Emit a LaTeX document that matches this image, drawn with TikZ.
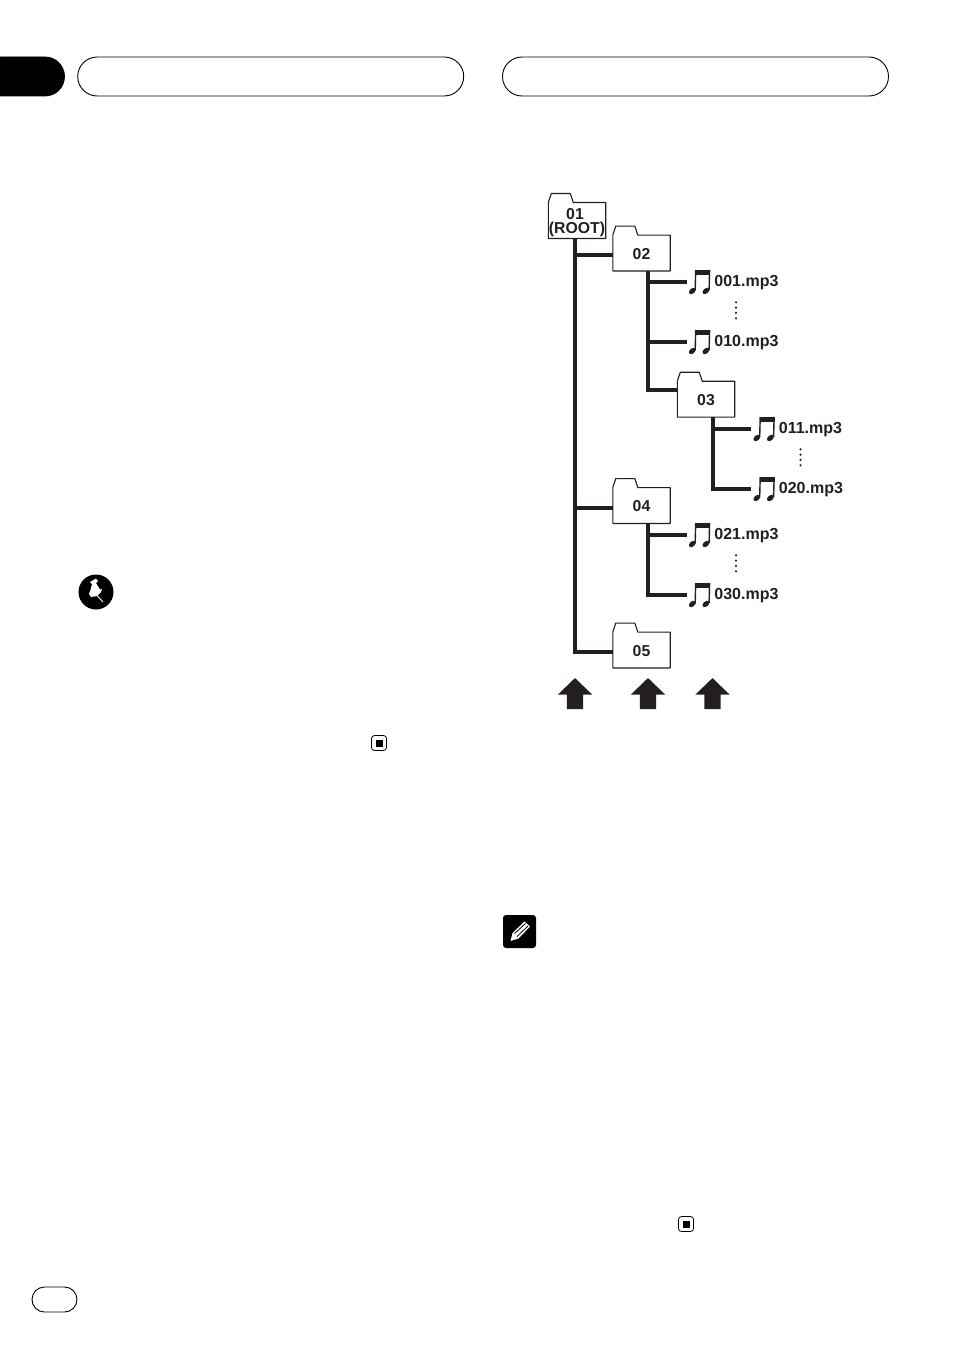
\documentclass[tikz,border=0pt]{standalone}
\usepackage{fontspec}
\setmainfont{Liberation Sans}
\usepackage{xcolor}
\usetikzlibrary{positioning, shapes.arrows, shapes.misc}
\definecolor{inkblack}{RGB}{35, 31, 32}
\tikzset{
  pilltab/.style={rounded rectangle, draw=black, line width=0.9pt, minimum height=39pt, inner sep=0pt},
  folder/.style={minimum width=57pt, minimum height=35.5pt, inner sep=0pt, align=center,
              text=inkblack, font=\fontsize{15.8}{14}\selectfont\bfseries},
  folderline/.style={draw=inkblack, line width=1.1pt, line join=round},
  noteicon/.style={minimum width=26pt, minimum height=26pt, inner sep=0pt},
  filelabel/.style={inner sep=0pt, text=inkblack, font=\fontsize{16}{16}\selectfont\bfseries},
  trunk/.style={draw=inkblack, line width=3.6pt},
  branch/.style={draw=inkblack, line width=3.2pt},
  uparrow/.style={single arrow, fill=inkblack, inner sep=8pt, shape border rotate=90,
              minimum height=31pt, minimum width=34pt, single arrow head extend=9pt,
              single arrow tip angle=92},
  endmark/.style={draw=black, line width=0.8pt, rounded corners=3pt, minimum size=15pt, inner sep=0pt},
  musicnote/.pic={
    \fill[inkblack] (-5,-12) rectangle (10.3,-7.2);
    \draw[inkblack, line width=1.4pt] (-4.3,-12) -- (-4.8,8);
    \draw[inkblack, line width=1.4pt] (9.6,-12) -- (9.1,8);
    \fill[inkblack, shift={(-7.7,9)}, rotate=40] (0,0) ellipse (3.9 and 2.6);
    \fill[inkblack, shift={(5.9,9)}, rotate=40] (0,0) ellipse (3.9 and 2.6);
  },
  vdots/.pic={
    \foreach \d in {0,5.3,10.6,16} \fill[inkblack] (0,\d) circle (1.2);
  },
}
\begin{document}
\begin{tikzpicture}[x=1pt, y=-1pt]
  \useasboundingbox (0,0) rectangle (954,1351);

  % page furniture
  \node[pilltab, fill=black, rounded rectangle west arc=none, minimum width=64pt, anchor=west] (tabblack) at (0,76.5) {};
  \node[pilltab, minimum width=386pt] (tableft) at (270.7,76.5) {};
  \node[pilltab, minimum width=386pt] (tabright) at (695.5,76.5) {};
  \node[pilltab, minimum width=45pt, minimum height=25pt] (pagepill) at (54.5,1299.5) {};

  % folders
  \foreach \name/\x/\y/\dy/\txt in {f01/577/220.5/2/{\hspace*{-4pt}01\\(ROOT)}, f02/641.5/253/1/02, f03/706/399.2/1/03, f04/641.5/505.5/1/04, f05/641.5/650/1/05} {
    \node[folder] (\name t) at (\x,\y+\dy) {\txt};
    \node[minimum width=57pt, minimum height=35.5pt, inner sep=0pt] (\name) at (\x,\y) {};
    \draw[folderline] (\name.south west) -- (\name.north west) -- ++(3,-9) -- ++(19,0) -- ++(3,9)
      -- (\name.north east) -- (\name.south east) -- cycle;
  }

  % files
  \foreach \name/\x/\y/\txt in {n001/700/282/001.mp3, n010/700/342/010.mp3, n011/764.5/429/011.mp3,
      n020/764.5/489/020.mp3, n021/700/535/021.mp3, n030/700/595/030.mp3} {
    \node[noteicon] (\name) at (\x,\y) {};
    \pic at (\name) {musicnote};
    \node[filelabel, right=1pt of \name, yshift=-0.5pt] (\name t) {\txt};
  }

  \draw[trunk] ([xshift=-2pt]f01.south) |- ([yshift=-2pt]f05.west);
  \draw[branch, line width=4pt] ([xshift=-2pt]f01.south) |- ([yshift=-2pt]f02.west);
  \draw[branch, line width=3.6pt] ([xshift=-2pt]f01.south) |- ([yshift=-2.5pt]f04.west);

  \draw[trunk] ([xshift=6.5pt]f02.south) |- ([yshift=9pt]f03.west);
  \draw[branch] ([xshift=6.5pt]f02.south) |- (n001.west);
  \draw[branch] ([xshift=6.5pt]f02.south) |- (n010.west);

  \draw[trunk] ([xshift=7pt]f03.south) |- (n020.west);
  \draw[branch, line width=3.6pt] ([xshift=7pt]f03.south) |- (n011.west);

  \draw[trunk] ([xshift=6.5pt]f04.south) |- (n030.west);
  \draw[branch] ([xshift=6.5pt]f04.south) |- (n021.west);

  % dots
  \pic at (736,302.3) {vdots};
  \pic at (800.5,449.3) {vdots};
  \pic at (736,555.3) {vdots};

  % arrows
  \node[uparrow] (up1) at (575,697.5) {};
  \node[uparrow] (up2) at (648,697.5) {};
  \node[uparrow] (up3) at (712.5,697.5) {};

  % important sign
  \fill[black] (96,592) circle (17.5);
  \fill[white] (90,582) -- (96,578.5) -- (98,581) -- (96,583) -- (100,589.5) -- (102,589) -- (101,592)
    -- (97,596) -- (91,597) -- (89,594) -- (90.5,590) -- (92,584) -- cycle;
  \draw[white, line width=0.9pt] (96.5,595) -- (103,602);

  % note sign
  \fill[black, rounded corners=3pt] (503,915) rectangle (536,948);
  \fill[white] (510.5,941) -- (512.5,933) -- (524.5,921.5) -- (530,926.5) -- (518.5,938.5) -- cycle;
  \draw[black, line width=0.8pt] (514.5,933.5) -- (525.5,923.5) (517,936.5) -- (528,926);

  % end marks
  \foreach \name/\x/\y in {endl/379/743, endr/686/1224} {
    \node[endmark] (\name) at (\x,\y) {};
    \fill[black] (\x-3.5,\y-3.5) rectangle (\x+3.5,\y+3.5);
  }
\end{tikzpicture}
\end{document}
